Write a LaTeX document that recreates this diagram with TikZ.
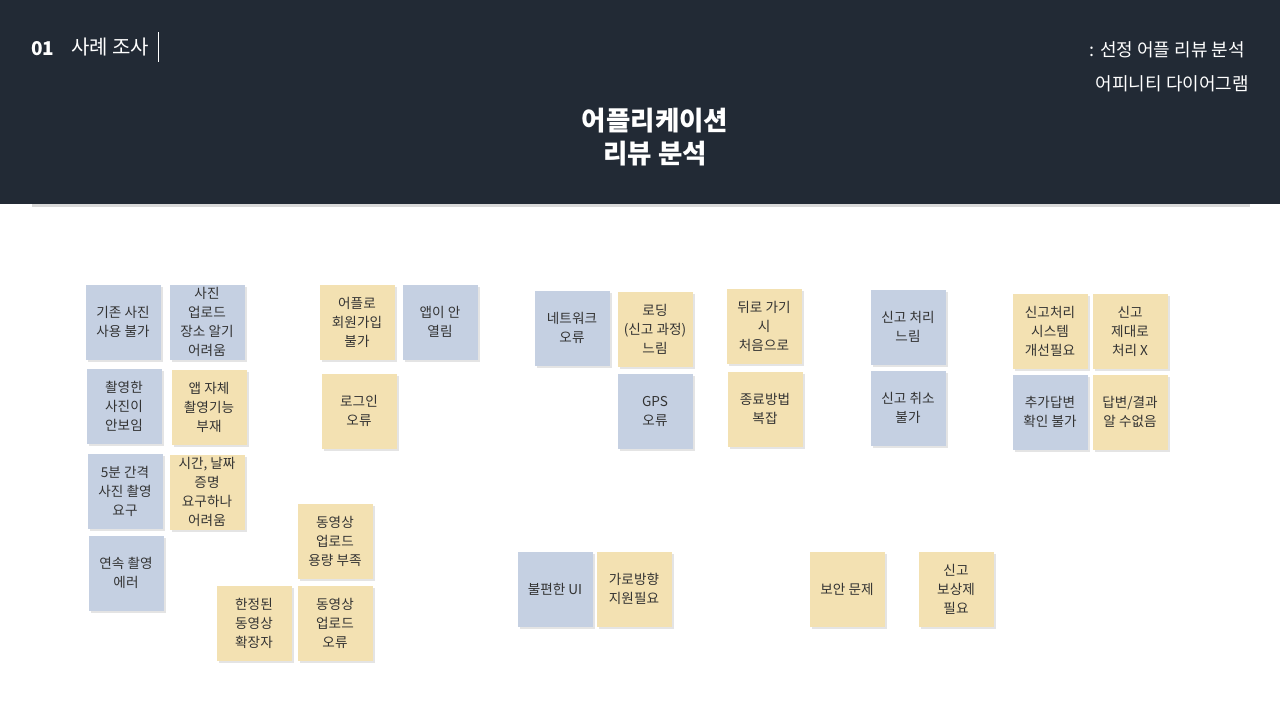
\documentclass[tikz,border=0pt]{standalone}
\usepackage{fontspec}
\setmainfont{Noto Sans CJK KR}
\usepackage{xcolor}
\usetikzlibrary{shadows}
\definecolor{headbg}{RGB}{34,42,53}
\definecolor{noteblue}{RGB}{197,208,226}
\definecolor{noteyellow}{RGB}{243,225,178}
\definecolor{notetext}{RGB}{51,51,51}
\tikzset{
  note/.style={
    minimum width=75pt, minimum height=75pt, inner sep=0pt,
    align=center, text=notetext,
    font=\fontsize{13.6}{19}\selectfont,
    drop shadow={shadow xshift=2pt, shadow yshift=-2pt, opacity=0.3, fill=black!35}
  }}
\tikzset{
  bluenote/.style={note, fill=noteblue},
  yellownote/.style={note, fill=noteyellow}}
\tikzset{%
  headtext/.style={text=white, inner sep=0pt}}

\begin{document}
\begin{tikzpicture}[x=1pt,y=-1pt]
    \useasboundingbox (0,0) rectangle (1280,720);
    \fill[white] (0,0) rectangle (1280,720);
    % header band
    \fill[black!15] (32,203) rectangle (1250,206.5);
    \fill[headbg] (0,0) rectangle (1280,204);
    \node[headtext, anchor=west, font=\bfseries\fontsize{19}{22}\selectfont] (num) at (31,49) {01};
    \node[headtext, anchor=west, font=\fontsize{20}{22}\selectfont] (topic) at (71,47) {사례 조사};
    \draw[white, line width=0.9pt] (158,32) -- (158,62);
    \node[headtext, anchor=east, font=\fontsize{18}{20}\selectfont] (sub1) at (1245,50) {: 선정 어플 리뷰 분석};
    \node[headtext, anchor=east, font=\fontsize{18}{20}\selectfont] (sub2) at (1249,84) {어피니티 다이어그램};
    \node[headtext, align=center, font=\bfseries\fontsize{26.5}{33}\selectfont] (title) at (655,137) {어플리케이션\\리뷰 분석};
    % photo group
    \node[bluenote] (oldphoto) at (123,322) {기존 사진\\사용 불가};
    \node[bluenote] (uploadplace) at (207,322) {사진\\업로드\\장소 알기\\어려움};
    \node[bluenote] (takenphoto) at (124,406) {촬영한\\사진이\\안보임};
    \node[yellownote] (nocamera) at (209,407) {앱 자체\\촬영기능\\부재};
    \node[bluenote] (interval) at (125,491) {5분 간격\\사진 촬영\\요구};
    \node[yellownote] (timeproof) at (207,492) {시간, 날짜\\증명\\요구하나\\어려움};
    \node[bluenote] (burst) at (126,573) {연속 촬영\\에러};
    % account group
    \node[yellownote] (signup) at (357,322) {어플로\\회원가입\\불가};
    \node[bluenote] (noopen) at (440,322) {앱이 안\\열림};
    \node[yellownote] (login) at (359,411) {로그인\\오류};
    % video group
    \node[yellownote] (videosize) at (335,541) {동영상\\업로드\\용량 부족};
    \node[yellownote] (videoext) at (254,623) {한정된\\동영상\\확장자};
    \node[yellownote] (videoerr) at (335,623) {동영상\\업로드\\오류};
    % network group
    \node[bluenote] (network) at (572,328) {네트워크\\오류};
    \node[yellownote] (loading) at (655,329) {로딩\\(신고 과정)\\느림};
    \node[bluenote] (gps) at (655,411) {GPS\\오류};
    \node[yellownote] (goback) at (764,326) {뒤로 가기\\시\\처음으로};
    \node[yellownote] (quit) at (765,409) {종료방법\\복잡};
    % report group
    \node[bluenote] (slowreport) at (908,327) {신고 처리\\느림};
    \node[bluenote] (cancel) at (908,408) {신고 취소\\불가};
    \node[yellownote] (system) at (1050,331) {신고처리\\시스템\\개선필요};
    \node[yellownote] (handling) at (1130,331) {신고\\제대로\\처리 X};
    \node[bluenote] (extra) at (1050,412) {추가답변\\확인 불가};
    \node[yellownote] (result) at (1130,412) {답변/결과\\알 수없음};
    % misc
    \node[bluenote] (ui) at (555,589) {불편한 UI};
    \node[yellownote] (landscape) at (634,589) {가로방향\\지원필요};
    \node[yellownote] (security) at (847,589) {보안 문제};
    \node[yellownote] (reward) at (956,589) {신고\\보상제\\필요};
\end{tikzpicture}
\end{document}
